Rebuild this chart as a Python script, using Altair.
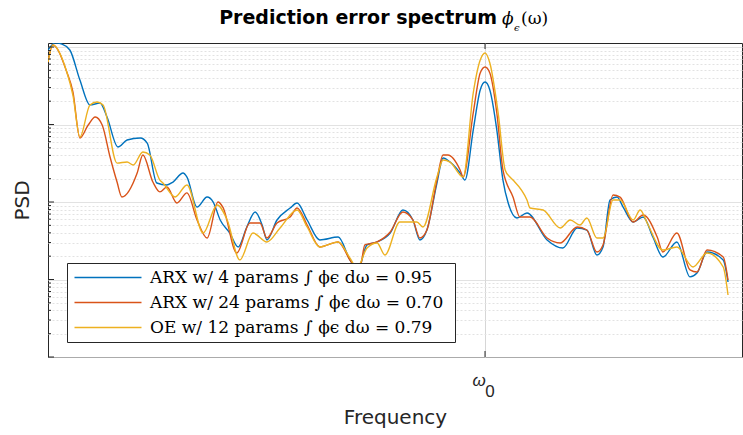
import altair as alt
import pandas as pd

# Frequencies are normalised so that the resonance sits at omega_0 = 1
series_names = [
    "ARX w/ 4 params  ∫ ϕϵ dω = 0.95",
    "ARX w/ 24 params  ∫ ϕϵ dω = 0.70",
    "OE w/ 12 params  ∫ ϕϵ dω = 0.79",
]
series_colors = ["#0072BD", "#D95319", "#EDB120"]

freq_arx4 = [0.000, 0.016, 0.032, 0.050, 0.073, 0.096, 0.119, 0.135, 0.160, 0.181,
             0.211, 0.227, 0.249, 0.272, 0.286, 0.309, 0.318, 0.341, 0.364, 0.378,
             0.394, 0.416, 0.435, 0.455, 0.474, 0.490, 0.501, 0.524, 0.554, 0.570,
             0.593, 0.622, 0.664, 0.691, 0.709, 0.730, 0.753, 0.783, 0.812, 0.835,
             0.851, 0.867, 0.890, 0.904, 0.920, 0.943, 0.954, 0.973, 0.989, 1.000,
             1.011, 1.027, 1.041, 1.053, 1.073, 1.096, 1.142, 1.178, 1.211, 1.233,
             1.256, 1.270, 1.286, 1.302, 1.316, 1.339, 1.362, 1.384, 1.407, 1.439,
             1.469, 1.485, 1.508, 1.545, 1.556]
psd_arx4 = [0.91, 1.13, 1.09, 0.915, 0.375, 0.179, 0.189, 0.125, 0.0513, 0.0631,
            0.0670, 0.0577, 0.0176, 0.0166, 0.0181, 0.0237, 0.0210, 0.00861, 0.0116, 0.0100,
            0.00586, 0.00398, 0.00263, 0.00476, 0.00743, 0.00505, 0.00324, 0.00586, 0.00837, 0.00971,
            0.00586, 0.00324, 0.00353, 0.00179, 0.00133, 0.00279, 0.00305, 0.00398, 0.00789, 0.00586,
            0.00324, 0.00435, 0.0176, 0.0370, 0.0328, 0.0237, 0.0192, 0.0849, 0.279, 0.353,
            0.279, 0.0849, 0.0192, 0.00971, 0.00622, 0.00721, 0.00324, 0.00255, 0.00462, 0.00435,
            0.00207, 0.00263, 0.0106, 0.0116, 0.00861, 0.00552, 0.00640, 0.00353, 0.00195, 0.00305,
            0.00108, 0.00121, 0.00226, 0.00179, 0.000929]

freq_arx24 = [0.000, 0.011, 0.043, 0.057, 0.073, 0.092, 0.108, 0.124, 0.142, 0.158,
              0.169, 0.204, 0.217, 0.240, 0.256, 0.272, 0.295, 0.318, 0.341, 0.364,
              0.389, 0.400, 0.432, 0.462, 0.485, 0.501, 0.524, 0.554, 0.570, 0.593,
              0.622, 0.664, 0.696, 0.714, 0.725, 0.753, 0.783, 0.812, 0.835, 0.851,
              0.867, 0.890, 0.904, 0.915, 0.943, 0.950, 0.973, 0.989, 1.000, 1.011,
              1.027, 1.041, 1.064, 1.080, 1.103, 1.142, 1.172, 1.211, 1.233, 1.256,
              1.270, 1.293, 1.309, 1.339, 1.362, 1.394, 1.407, 1.439, 1.469, 1.485,
              1.508, 1.545, 1.556]
psd_arx24 = [0.640, 1.06, 0.476, 0.263, 0.0670, 0.0986, 0.125, 0.0986, 0.0381, 0.0181,
             0.0116, 0.0237, 0.0404, 0.0181, 0.0135, 0.0156, 0.00971, 0.0131, 0.00586, 0.00343,
             0.0100, 0.00861, 0.00220, 0.00536, 0.00536, 0.00343, 0.00536, 0.00640, 0.00837, 0.00505,
             0.00263, 0.00305, 0.00163, 0.00145, 0.00279, 0.00305, 0.00410, 0.00743, 0.00586, 0.00343,
             0.00435, 0.0192, 0.0404, 0.0404, 0.0259, 0.0210, 0.141, 0.462, 0.552, 0.462,
             0.141, 0.0259, 0.0116, 0.00640, 0.00640, 0.00343, 0.00296, 0.00476, 0.00435, 0.00226,
             0.00279, 0.0123, 0.0116, 0.00552, 0.00680, 0.00353, 0.00226, 0.00398, 0.00133, 0.00125,
             0.00240, 0.00195, 0.000986]

freq_oe12 = [0.000, 0.011, 0.043, 0.057, 0.073, 0.096, 0.112, 0.126, 0.158, 0.181,
             0.195, 0.217, 0.233, 0.256, 0.263, 0.291, 0.318, 0.355, 0.387, 0.410,
             0.439, 0.469, 0.501, 0.531, 0.570, 0.593, 0.622, 0.664, 0.691, 0.707,
             0.730, 0.753, 0.771, 0.805, 0.844, 0.858, 0.890, 0.904, 0.920, 0.950,
             0.973, 0.989, 1.000, 1.011, 1.030, 1.046, 1.057, 1.064, 1.096, 1.103,
             1.133, 1.172, 1.195, 1.217, 1.233, 1.256, 1.270, 1.293, 1.309, 1.339,
             1.355, 1.371, 1.407, 1.439, 1.476, 1.508, 1.545, 1.556]
psd_oe12 = [0.640, 1.06, 0.476, 0.240, 0.0690, 0.179, 0.195, 0.179, 0.0318, 0.0328,
            0.0300, 0.0442, 0.0404, 0.0192, 0.0176, 0.0116, 0.0166, 0.00398, 0.00914, 0.00586,
            0.00179, 0.00398, 0.00305, 0.00462, 0.00789, 0.00476, 0.00263, 0.00305, 0.00189, 0.00141,
            0.00255, 0.00296, 0.00207, 0.00552, 0.00552, 0.00476, 0.0210, 0.0348, 0.0328, 0.0210,
            0.255, 0.679, 0.837, 0.622, 0.141, 0.0259, 0.0210, 0.0192, 0.0106, 0.00837,
            0.00789, 0.00462, 0.00586, 0.00505, 0.00622, 0.00343, 0.00343, 0.0106, 0.0106, 0.00586,
            0.00789, 0.00536, 0.00240, 0.00263, 0.00145, 0.00220, 0.00145, 0.000631]

omega0 = [1.0]
major_ticks = [1e-4, 1e-3, 1e-2, 1e-1, 1.0]
minor_ticks = [k * 10.0 ** e for e in range(-4, 0) for k in range(2, 10)]

rows = []
for name, fs, ps in zip(series_names,
                        [freq_arx4, freq_arx24, freq_oe12],
                        [psd_arx4, psd_arx24, psd_oe12]):
    rows += [{"model": name, "freq": f, "psd": p} for f, p in zip(fs, ps)]
spectra = pd.DataFrame(rows)

W, H = 694, 314
SANS = "DejaVu Sans"
INK = "#262626"

x_scale = alt.Scale(domain=[0, 1.588], nice=False, zero=False)
y_scale = alt.Scale(type="log", domain=[1e-4, 1.127], nice=False)

is_decade = "abs(log(datum.value)/LN10 - round(log(datum.value)/LN10)) < 0.001"

x_axis = alt.Axis(values=omega0, labels=False, ticks=False, domain=False,
                  grid=True, gridColor="#d6d6d6", gridWidth=1,
                  title="Frequency", titleFont=SANS, titleFontSize=20,
                  titleFontWeight="normal", titleColor=INK, titlePadding=50)
y_axis = alt.Axis(values=major_ticks + minor_ticks, labels=False, ticks=False,
                  domain=False, grid=True,
                  gridDash=alt.condition(is_decade, alt.value([1, 0]), alt.value([2, 2])),
                  gridColor=alt.condition(is_decade, alt.value("#d9d9d9"), alt.value("#e2e2e2")),
                  title="PSD", titleFont=SANS, titleFontSize=20,
                  titleFontWeight="normal", titleColor=INK, titlePadding=16)

X = alt.X("freq:Q", scale=x_scale, axis=x_axis)
Y = alt.Y("psd:Q", scale=y_scale, axis=y_axis)

# legend swatch: a long horizontal stroke that starts at the symbol's left edge
swatch = "M-1,0L8.57,0"

lines = alt.Chart(spectra).mark_line(strokeWidth=1.4, interpolate="monotone", clip=True).encode(
    x=X, y=Y,
    color=alt.Color("model:N", sort=series_names,
                    scale=alt.Scale(domain=series_names, range=series_colors),
                    legend=alt.Legend(title=None, orient="none", legendX=19, legendY=220,
                                      direction="vertical", symbolType=swatch,
                                      symbolSize=196, symbolStrokeWidth=1.5,
                                      labelFont="DejaVu Serif", labelFontSize=17,
                                      labelColor="black", labelLimit=0, labelOffset=60,
                                      strokeColor=INK, fillColor="white",
                                      padding=6, rowPadding=7)),
)

# small inward ticks on the left edge and at omega_0
major_df = pd.DataFrame({"psd": major_ticks})
minor_df = pd.DataFrame({"psd": minor_ticks})
w0_df = pd.DataFrame({"freq": omega0})

left_major = alt.Chart(major_df).mark_rule(color=INK, strokeWidth=1).encode(
    y=Y, x=alt.value(0), x2=alt.value(6))
left_minor = alt.Chart(minor_df).mark_rule(color=INK, strokeWidth=1).encode(
    y=Y, x=alt.value(0), x2=alt.value(3))
w0_top = alt.Chart(w0_df).mark_rule(color=INK, strokeWidth=1).encode(
    x=X, y=alt.value(0), y2=alt.value(6))
w0_bottom = alt.Chart(w0_df).mark_rule(color=INK, strokeWidth=1).encode(
    x=X, y=alt.value(H - 6), y2=alt.value(H))

# omega_0 tick label drawn as omega with a lowered 0
w0_sym = alt.Chart(w0_df).mark_text(font="Liberation Sans", fontSize=17, color=INK, dx=-6,
                                    baseline="alphabetic", fontStyle="italic").encode(
    x=X, y=alt.value(H + 29), text=alt.value("ω"))
w0_sub = alt.Chart(w0_df).mark_text(font="Liberation Sans", fontSize=17, color=INK, dx=5,
                                    baseline="alphabetic").encode(
    x=X, y=alt.value(H + 40), text=alt.value("0"))

# title: "Prediction error spectrum ϕ_ϵ(ω)"
title_df = pd.DataFrame({"t": [0]})
title_main = alt.Chart(title_df).mark_text(font=SANS, fontSize=19, fontWeight="bold",
                                           color="black", align="right",
                                           baseline="alphabetic").encode(
    x=alt.value(449), y=alt.value(-19), text=alt.value("Prediction error spectrum"))
title_phi = alt.Chart(title_df).mark_text(font="DejaVu Serif", fontSize=17, fontStyle="italic",
                                          color="black", align="left",
                                          baseline="alphabetic").encode(
    x=alt.value(454), y=alt.value(-19), text=alt.value("ϕ"))
title_eps = alt.Chart(title_df).mark_text(font="DejaVu Serif", fontSize=10, fontStyle="italic",
                                          color="black", align="left",
                                          baseline="alphabetic").encode(
    x=alt.value(466), y=alt.value(-12), text=alt.value("ϵ"))
title_arg = alt.Chart(title_df).mark_text(font="DejaVu Serif", fontSize=17,
                                          color="black", align="left",
                                          baseline="alphabetic").encode(
    x=alt.value(473), y=alt.value(-19), text=alt.value("(ω)"))

chart = alt.layer(
    lines, left_major, left_minor, w0_top, w0_bottom, w0_sym, w0_sub,
    title_main, title_phi, title_eps, title_arg,
).properties(
    width=W, height=H,
    autosize=alt.AutoSizeParams(type="none"),
    padding={"left": 48, "top": 43, "right": 1, "bottom": 78},
    background="white",
).configure_view(stroke=INK, strokeWidth=1)

chart.save("out.html", embed_options={"renderer": "svg", "actions": False})
